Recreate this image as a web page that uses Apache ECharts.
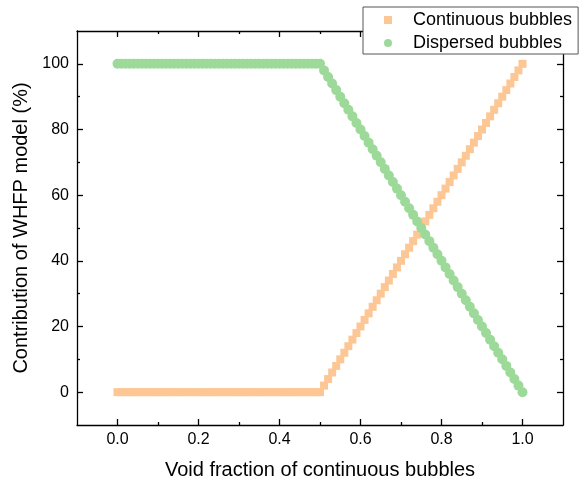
<!DOCTYPE html>
<html>
<head>
<meta charset="utf-8">
<script src="https://cdn.jsdelivr.net/npm/echarts@6/dist/echarts.min.js"></script>
<style>html,body{margin:0;padding:0;background:#fff;}#c{width:588px;height:485px;}</style>
</head>
<body>
<div id="c"></div>
<script>
var voidFraction = [0.00,0.01,0.02,0.03,0.04,0.05,0.06,0.07,0.08,0.09,0.10,0.11,0.12,0.13,0.14,0.15,0.16,0.17,0.18,0.19,0.20,0.21,0.22,0.23,0.24,0.25,0.26,0.27,0.28,0.29,0.30,0.31,0.32,0.33,0.34,0.35,0.36,0.37,0.38,0.39,0.40,0.41,0.42,0.43,0.44,0.45,0.46,0.47,0.48,0.49,0.50,0.51,0.52,0.53,0.54,0.55,0.56,0.57,0.58,0.59,0.60,0.61,0.62,0.63,0.64,0.65,0.66,0.67,0.68,0.69,0.70,0.71,0.72,0.73,0.74,0.75,0.76,0.77,0.78,0.79,0.80,0.81,0.82,0.83,0.84,0.85,0.86,0.87,0.88,0.89,0.90,0.91,0.92,0.93,0.94,0.95,0.96,0.97,0.98,0.99,1.00];
var continuousBubbles = [0,0,0,0,0,0,0,0,0,0,0,0,0,0,0,0,0,0,0,0,0,0,0,0,0,0,0,0,0,0,0,0,0,0,0,0,0,0,0,0,0,0,0,0,0,0,0,0,0,0,0,2,4,6,8,10,12,14,16,18,20,22,24,26,28,30,32,34,36,38,40,42,44,46,48,50,52,54,56,58,60,62,64,66,68,70,72,74,76,78,80,82,84,86,88,90,92,94,96,98,100];
var dispersedBubbles = [100,100,100,100,100,100,100,100,100,100,100,100,100,100,100,100,100,100,100,100,100,100,100,100,100,100,100,100,100,100,100,100,100,100,100,100,100,100,100,100,100,100,100,100,100,100,100,100,100,100,100,98,96,94,92,90,88,86,84,82,80,78,76,74,72,70,68,66,64,62,60,58,56,54,52,50,48,46,44,42,40,38,36,34,32,30,28,26,24,22,20,18,16,14,12,10,8,6,4,2,0];
var xMajorTicks = [0, 0.2, 0.4, 0.6, 0.8, 1.0];
var xMinorTicks = [0.1, 0.3, 0.5, 0.7, 0.9];
var yMajorTicks = [0, 20, 40, 60, 80, 100];
var yMinorTicks = [10, 30, 50, 70, 90];
var seriesNames = ['Continuous bubbles', 'Dispersed bubbles'];
var xTitle = 'Void fraction of continuous bubbles';
var yTitle = 'Contribution of WHFP model (%)';

var FONT = 'Liberation Sans, Arial, sans-serif';
var lineStyle = {color: '#000', width: 1.3};

function mkX(pos, major, labels) {
  return {
    type: 'value', position: pos, min: -0.1, max: 1.1, interval: 0.1,
    splitLine: {show: false},
    axisLine: {show: major, onZero: false, lineStyle: lineStyle},
    axisTick: {show: true, inside: true, length: major ? 6 : 3, lineStyle: lineStyle,
      customValues: major ? xMajorTicks : xMinorTicks},
    axisLabel: labels ? {show: true, customValues: xMajorTicks, margin: 7,
      formatter: function (v) { return v.toFixed(1); },
      color: '#000', fontSize: 16, fontFamily: FONT} : {show: false},
    name: labels ? xTitle : '', nameLocation: 'middle', nameGap: 35,
    nameTextStyle: {color: '#000', fontSize: 20, fontFamily: FONT}
  };
}
function mkY(pos, major, labels) {
  return {
    type: 'value', position: pos, min: -10, max: 110, interval: 10,
    splitLine: {show: false},
    axisLine: {show: major, onZero: false, lineStyle: lineStyle},
    axisTick: {show: true, inside: true, length: major ? 6 : 3, lineStyle: lineStyle,
      customValues: major ? yMajorTicks : yMinorTicks},
    axisLabel: labels ? {show: true, customValues: yMajorTicks, margin: 8,
      color: '#000', fontSize: 16, fontFamily: FONT} : {show: false},
    name: labels ? yTitle : '', nameLocation: 'middle', nameGap: 38,
    nameTextStyle: {color: '#000', fontSize: 20, fontFamily: FONT}
  };
}

var chart = echarts.init(document.getElementById('c'), null, {renderer: 'canvas'});
chart.setOption({
  animation: false,
  backgroundColor: '#fff',
  grid: {left: 77, right: 25, top: 31, bottom: 58, containLabel: false},
  xAxis: [mkX('bottom', true, true), mkX('bottom', false, false), mkX('top', true, false), mkX('top', false, false)],
  yAxis: [mkY('left', true, true), mkY('left', false, false), mkY('right', true, false), mkY('right', false, false)],
  legend: {
    data: seriesNames,
    orient: 'vertical', left: 363, top: 7,
    padding: [3, 6, 1, 21], itemGap: 3,
    itemWidth: 8, itemHeight: 8,
    backgroundColor: '#fff', borderColor: '#555', borderWidth: 1,
    textStyle: {color: '#000', fontSize: 18, fontFamily: FONT, lineHeight: 20, padding: [0, 0, 0, 16]},
    z: 10
  },
  series: [
    {name: seriesNames[0], type: 'scatter', symbol: 'rect', symbolSize: 8,
     itemStyle: {color: '#FDC795', opacity: 1},
     data: voidFraction.map(function (x, i) { return [x, continuousBubbles[i]]; })},
    {name: seriesNames[1], type: 'scatter', symbol: 'circle', symbolSize: 10,
     itemStyle: {color: '#9DDA9A', opacity: 1},
     data: voidFraction.map(function (x, i) { return [x, dispersedBubbles[i]]; })}
  ]
});
</script>
</body>
</html>
